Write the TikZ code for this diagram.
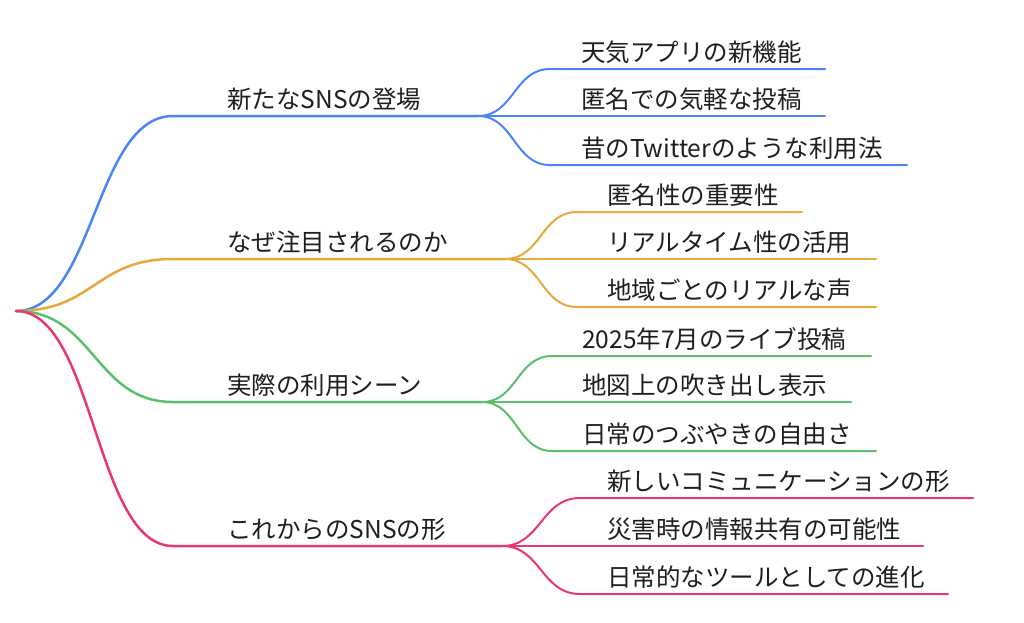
\documentclass[tikz,border=0pt]{standalone}
\usepackage{fontspec}
\setmainfont{Noto Sans CJK JP}
\usetikzlibrary{calc}
\definecolor{cblue}{HTML}{4A86F5}
\definecolor{corange}{HTML}{E9A83B}
\definecolor{cgreen}{HTML}{5CBF6C}
\definecolor{cpink}{HTML}{E8386D}
\definecolor{ctext}{HTML}{1E1E1E}
\tikzset{
  lbl/.style={anchor=base west, inner sep=0pt, text=ctext, font=\fontsize{24.5}{28}\selectfont},
  lvone/.style={line width=2.5pt, line cap=round},
  lvtwo/.style={line width=2pt, line cap=round},
  hcurve/.style={to path={let \p1=(\tikztostart), \p2=(\tikztotarget) in
     .. controls ({(\x1+\x2)/2},\y1) and ({(\x1+\x2)/2},\y2) .. (\tikztotarget)}}
}
\begin{document}
\begin{tikzpicture}[x=1pt,y=-1pt]
\useasboundingbox (0,0) rectangle (1024,622);
\fill[white] (0,0) rectangle (1024,622);
\coordinate (root) at (16,311);

% ---------- blue ----------
\coordinate (b1s) at (173,116);
\coordinate (b1f) at (478,116);
\node[lbl] (t1) at (227,108) {新たなSNSの登場};
\coordinate (b1a) at (550,69);  \coordinate (b1ae) at (825,69);
\coordinate (b1b) at (550,116); \coordinate (b1be) at (825,116);
\coordinate (b1c) at (550,165); \coordinate (b1ce) at (907,165);
\node[lbl] (t1a) at (581,61)  {天気アプリの新機能};
\node[lbl] (t1b) at (581,108) {匿名での気軽な投稿};
\node[lbl] (t1c) at (581,157) {昔のTwitterのような利用法};
\draw[cblue,lvone] (root) to[hcurve] (b1s) -- (b1f);
\draw[cblue,lvtwo] (b1f) to[hcurve] (b1a) -- (b1ae);
\draw[cblue,lvtwo] (b1f) -- (b1b) -- (b1be);
\draw[cblue,lvtwo] (b1f) to[hcurve] (b1c) -- (b1ce);

% ---------- orange ----------
\coordinate (b2s) at (173,259);
\coordinate (b2f) at (505,259);
\node[lbl] (t2) at (227,251) {なぜ注目されるのか};
\coordinate (b2a) at (577,212); \coordinate (b2ae) at (802,212);
\coordinate (b2b) at (577,259); \coordinate (b2be) at (876,259);
\coordinate (b2c) at (577,307); \coordinate (b2ce) at (876,307);
\node[lbl] (t2a) at (607,204) {匿名性の重要性};
\node[lbl] (t2b) at (607,251) {リアルタイム性の活用};
\node[lbl] (t2c) at (607,299) {地域ごとのリアルな声};
\draw[corange,lvone] (root) to[hcurve] (b2s) -- (b2f);
\draw[corange,lvtwo] (b2f) to[hcurve] (b2a) -- (b2ae);
\draw[corange,lvtwo] (b2f) -- (b2b) -- (b2be);
\draw[corange,lvtwo] (b2f) to[hcurve] (b2c) -- (b2ce);

% ---------- green ----------
\coordinate (b3s) at (173,402);
\coordinate (b3f) at (482,402);
\node[lbl] (t3) at (227,394) {実際の利用シーン};
\coordinate (b3a) at (552,356); \coordinate (b3ae) at (871,356);
\coordinate (b3b) at (552,402); \coordinate (b3be) at (851,402);
\coordinate (b3c) at (552,451); \coordinate (b3ce) at (876,451);
\node[lbl] (t3a) at (582,348) {2025年7月のライブ投稿};
\node[lbl] (t3b) at (582,394) {地図上の吹き出し表示};
\node[lbl] (t3c) at (582,443) {日常のつぶやきの自由さ};
\draw[cgreen,lvone] (root) to[hcurve] (b3s) -- (b3f);
\draw[cgreen,lvtwo] (b3f) to[hcurve] (b3a) -- (b3ae);
\draw[cgreen,lvtwo] (b3f) -- (b3b) -- (b3be);
\draw[cgreen,lvtwo] (b3f) to[hcurve] (b3c) -- (b3ce);

% ---------- pink ----------
\coordinate (b4s) at (173,546);
\coordinate (b4f) at (502,546);
\node[lbl] (t4) at (227,538) {これからのSNSの形};
\coordinate (b4a) at (580,498); \coordinate (b4ae) at (973,498);
\coordinate (b4b) at (580,546); \coordinate (b4be) at (923,546);
\coordinate (b4c) at (580,594); \coordinate (b4ce) at (948,594);
\node[lbl] (t4a) at (607,490) {新しいコミュニケーションの形};
\node[lbl] (t4b) at (607,538) {災害時の情報共有の可能性};
\node[lbl] (t4c) at (607,586) {日常的なツールとしての進化};
\draw[cpink,lvone] (root) to[hcurve] (b4s) -- (b4f);
\draw[cpink,lvtwo] (b4f) to[hcurve] (b4a) -- (b4ae);
\draw[cpink,lvtwo] (b4f) -- (b4b) -- (b4be);
\draw[cpink,lvtwo] (b4f) to[hcurve] (b4c) -- (b4ce);
\end{tikzpicture}
\end{document}
